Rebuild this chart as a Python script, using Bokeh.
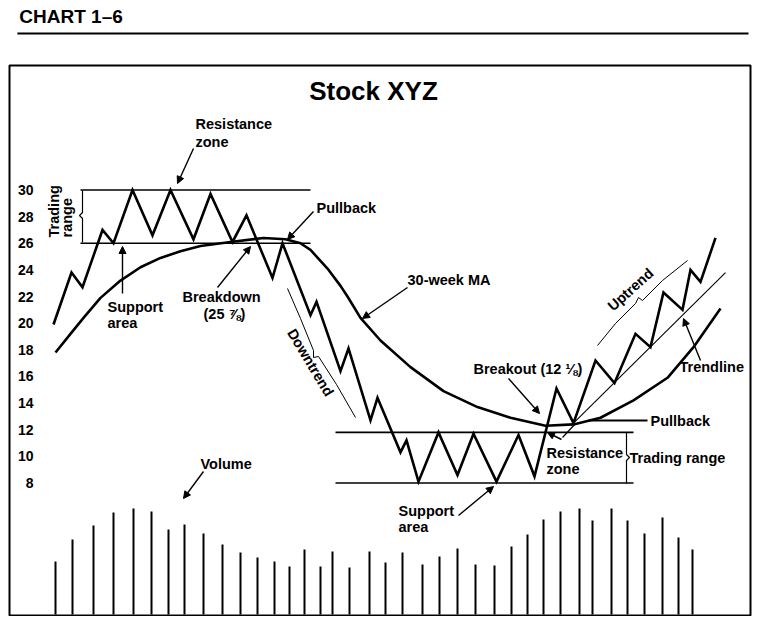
from bokeh.plotting import figure
from bokeh.models import Range1d, Arrow, NormalHead, ColumnDataSource
from bokeh.layouts import column
from bokeh.embed import file_html
from bokeh.resources import INLINE
from bokeh.core.properties import value
import math

# ---------------- data (time unit = chart position, price in $) ----------------
price_t = [53, 71, 82, 102, 113, 132, 152, 170, 193, 210, 232, 246, 272, 282, 310, 316,
           340, 348, 370, 377, 400, 406, 418, 438, 457, 473, 496, 518, 534, 556, 573, 595,
           614, 635, 650, 663, 682, 690, 700, 715]
price_v = [19.9, 23.8, 22.7, 27.0, 26.0, 30.0, 26.6, 30.0, 26.3, 29.7, 26.1, 28.1, 23.4, 26.0,
           20.6, 21.6, 16.4, 18.1, 12.7, 14.4, 10.3, 11.2, 8.1, 11.8, 8.6, 11.7, 8.1, 11.6,
           8.5, 15.1, 12.5, 17.2, 15.5, 19.2, 18.2, 22.3, 21.0, 24.0, 23.1, 26.4]

ma_t = [55, 70, 83, 100, 120, 140, 160, 180, 200, 230, 263, 285, 300, 310, 327, 340, 347, 360,
        380, 410, 443, 477, 510, 545, 573, 600, 633, 667, 693, 720]
ma_v = [17.8, 19.2, 20.4, 21.9, 23.2, 24.2, 24.9, 25.4, 25.8, 26.1, 26.4, 26.3, 26.0, 25.5,
        24.1, 22.8, 22.0, 20.4, 18.7, 16.7, 14.9, 13.7, 12.9, 12.3, 12.4, 12.9, 14.2, 15.9,
        18.2, 21.1]

vol_t = [55, 72, 93, 113, 133, 151, 168, 184, 203, 222, 240, 257, 274, 289, 304, 320, 332, 349,
         369, 385, 402, 422, 439, 457, 475, 494, 511, 527, 543, 560, 579, 592, 611, 627, 644,
         662, 678, 692]
vol_v = [53, 75, 89, 102, 106, 103, 85, 90, 81, 70, 62, 57, 53, 48, 65, 48, 63, 47, 63, 52, 62,
         50, 58, 66, 50, 49, 68, 80, 95, 103, 106, 94, 106, 94, 81, 97, 77, 65]

tick_values = [30, 28, 26, 24, 22, 20, 18, 16, 14, 12, 10, 8]
tick_labels = [str(v) for v in tick_values]

# trading ranges: (start, end, low, high)
range_t0 = [80, 335]
range_t1 = [310, 633]
range_lo = [26.0, 8.0]
range_hi = [30.0, 11.8]

trend_t = [573, 725]
trend_v = [12.5, 23.8]

pullback_t = [588, 647]
pullback_v = [12.7, 12.7]

FONT = value("Liberation Sans")

# ---------------- header ----------------
hdr = figure(width=752, height=64, x_range=Range1d(0, 752), y_range=Range1d(64, 0),
             x_axis_type=None, y_axis_type=None, toolbar_location=None,
             output_backend="svg", min_border=0, title=None)
hdr.outline_line_color = None
hdr.text(x=[10], y=[16], text=["CHART 1\u20136"], text_font=FONT, text_font_style="bold",
         text_font_size=value("19px"), text_baseline="middle", text_align="left",
         text_color="black")
hdr.segment(x0=[8], y0=[33], x1=[750], y1=[33], line_color="black", line_width=2)

# ---------------- main chart ----------------
p = figure(width=752, height=552, x_range=Range1d(9, 750), y_range=Range1d(-1.949, 39.348),
           x_axis_type=None, y_axis_type=None, toolbar_location=None, output_backend="svg",
           min_border_left=9, min_border_right=2, min_border_top=1, min_border_bottom=1,
           title=None)
p.extra_y_ranges = {"px": Range1d(615, 65), "vol": Range1d(-1, 549)}
p.outline_line_color = "black"
p.outline_line_width = 2

# price axis labels inside the box
p.text(x=[33] * len(tick_values), y=tick_values, text=tick_labels, text_font=FONT,
       text_font_style="bold", text_font_size=value("14px"), text_align="right",
       text_baseline="middle", text_color="black")

# trading range lines
p.segment(x0=range_t0, y0=range_hi, x1=range_t1, y1=range_hi, line_color="black", line_width=1.6)
p.segment(x0=range_t0, y0=range_lo, x1=range_t1, y1=range_lo, line_color="black", line_width=1.6)

# braces
p.line(x=[82, 82, 79, 82, 82], y=[190, 212, 215, 218, 242], y_range_name="px",
       line_color="black", line_width=1.2)
p.line(x=[626, 626, 629, 626, 626], y=[432, 454, 457, 460, 483], y_range_name="px",
       line_color="black", line_width=1.2)
p.line(x=[287, 300, 313, 313, 318, 336, 355], y=[288, 318, 350, 357, 356, 384, 417],
       y_range_name="px", line_color="black", line_width=1.0)
p.line(x=[597, 615, 635, 638, 642, 662, 687], y=[345, 323, 303, 297, 300, 280, 260],
       y_range_name="px", line_color="black", line_width=1.0)

# trendline & pullback line
p.line(x=trend_t, y=trend_v, line_color="black", line_width=1.1)
p.line(x=pullback_t, y=pullback_v, line_color="black", line_width=2)

# moving average and price
p.line(x=ma_t, y=ma_v, line_color="black", line_width=2.6, line_join="round")
p.line(x=price_t, y=price_v, line_color="black", line_width=2.6, line_join="miter")

# volume
p.segment(x0=vol_t, y0=[0] * len(vol_t), x1=vol_t, y1=vol_v, y_range_name="vol",
          line_color="black", line_width=2)

# title
p.text(x=[373], y=[90], text=["Stock XYZ"], y_range_name="px", text_font=FONT,
       text_font_style="bold", text_font_size=value("26px"), text_align="center",
       text_baseline="middle", text_color="black")

# annotation labels
lab = ColumnDataSource(dict(
    x=[195, 195, 316, 107, 107, 182, 203, 407, 200, 398, 398, 473, 546, 546, 629, 650, 679],
    y=[123, 141, 207, 306, 322, 296, 313, 279, 463, 510, 526, 368, 452, 468, 457, 420, 366],
    text=["Resistance", "zone", "Pullback", "Support", "area", "Breakdown", "(25 \u215e)",
          "30-week MA", "Volume", "Support", "area", "Breakout (12 \u215b)", "Resistance",
          "zone", "Trading range", "Pullback", "Trendline"],
))
p.text(x="x", y="y", text="text", source=lab, y_range_name="px", text_font=FONT,
       text_font_style="bold", text_font_size=value("14.5px"), text_align="left",
       text_baseline="middle", text_color="black")

# rotated labels
p.text(x=[53, 66], y=[237, 237], text=["Trading", "range"], angle=math.pi / 2,
       y_range_name="px", text_font=FONT, text_font_style="bold",
       text_font_size=value("14.5px"), text_align="left", text_baseline="middle",
       text_color="black")
p.text(x=[310], y=[362], text=["Downtrend"], angle=-59 * math.pi / 180, y_range_name="px",
       text_font=FONT, text_font_style="bold", text_font_size=value("14.5px"),
       text_align="center", text_baseline="middle", text_color="black")
p.text(x=[630], y=[289], text=["Uptrend"], angle=42 * math.pi / 180, y_range_name="px",
       text_font=FONT, text_font_style="bold", text_font_size=value("14.5px"),
       text_align="center", text_baseline="middle", text_color="black")

# arrows (start -> head)
arrows = [
    (193, 148, 177, 183),
    (122, 293, 122, 246),
    (217, 287, 250, 246),
    (313, 211, 287, 239),
    (407, 287, 362, 318),
    (203, 471, 183, 498),
    (458, 515, 493, 486),
    (508, 378, 539, 413),
    (561, 439, 547, 432),
    (700, 360, 683, 318),
]
for xs, ys, xe, ye in arrows:
    p.add_layout(Arrow(end=NormalHead(size=7, line_color="black", fill_color="black"),
                       x_start=xs, y_start=ys, x_end=xe, y_end=ye, y_range_name="px",
                       line_color="black", line_width=1.4))
p.line(x=[562, 575], y=[437, 423], y_range_name="px", line_color="black", line_width=1.2)

layout = column(hdr, p, spacing=0)
open("out.html", "w").write(file_html(layout, INLINE))
